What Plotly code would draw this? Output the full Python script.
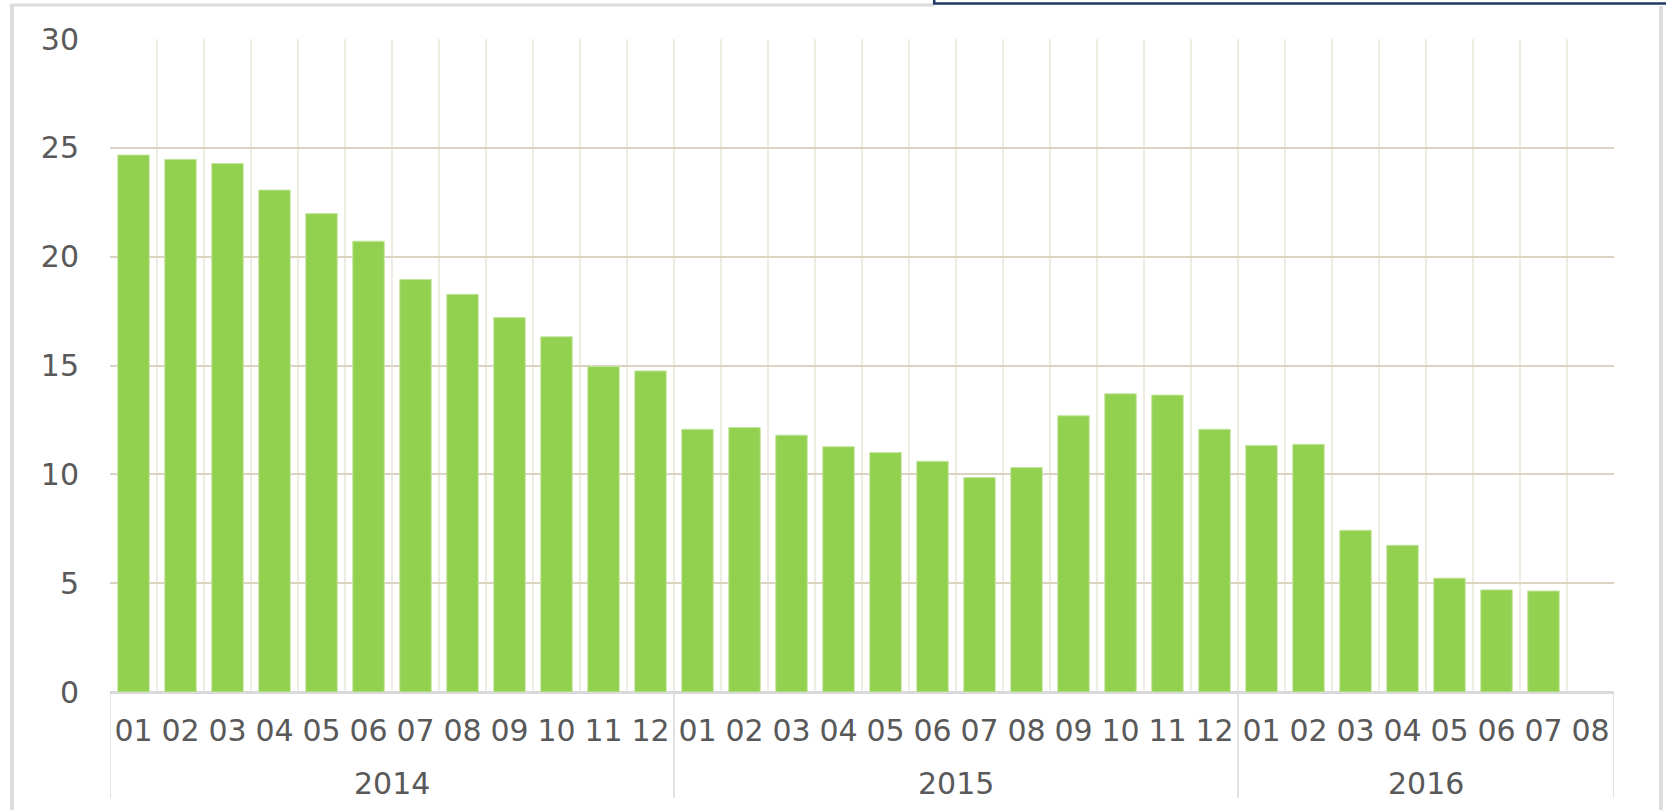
import plotly.graph_objects as go

years = ["2014"] * 12 + ["2015"] * 12 + ["2016"] * 8
months = ["01", "02", "03", "04", "05", "06", "07", "08", "09", "10", "11", "12",
          "01", "02", "03", "04", "05", "06", "07", "08", "09", "10", "11", "12",
          "01", "02", "03", "04", "05", "06", "07", "08"]
values = [24.67, 24.47, 24.28, 23.06, 21.98, 20.71, 18.95, 18.27, 17.20, 16.32, 14.95, 14.75,
          12.07, 12.15, 11.80, 11.27, 11.00, 10.60, 9.85, 10.31, 12.69, 13.70, 13.64, 12.07,
          11.33, 11.38, 7.43, 6.74, 5.23, 4.69, 4.64, None]
y_ticks = [0, 5, 10, 15, 20, 25, 30]

cats = [f"{y}-{m}" for y, m in zip(years, months)]

fig = go.Figure()
fig.add_trace(go.Bar(
    x=cats, y=values,
    marker=dict(color="#92D050", line=dict(color="#C4E59E", width=1)),
))

font = dict(family="DejaVu Sans", size=30, color="#595959")

# year group labels and dividers, placed from the category indices
shapes = []
annotations = []
year_order = []
for y in years:
    if y not in year_order:
        year_order.append(y)
start = 0
for y in year_order:
    n = years.count(y)
    annotations.append(dict(
        x=start + (n - 1) / 2, xref="x", y=-0.1394, yref="paper",
        text=y, showarrow=False, yanchor="middle", font=font))
    shapes.append(dict(type="line", xref="x", yref="paper",
                       x0=start - 0.5, x1=start - 0.5, y0=0, y1=-0.1623,
                       line=dict(color="#D9D9D9", width=1.5)))
    start += n
shapes.append(dict(type="line", xref="x", yref="paper",
                   x0=start - 0.5, x1=start - 0.5, y0=0, y1=-0.1623,
                   line=dict(color="#D9D9D9", width=1.5)))

# outer frame pieces
shapes += [
    dict(type="line", xref="paper", yref="paper", x0=-0.0652, x1=-0.0652,
         y0=1.054, y1=-0.2, line=dict(color="#DCDCDC", width=4)),
    dict(type="line", xref="paper", yref="paper", x0=-0.0652, x1=0.548,
         y0=1.052, y1=1.052, line=dict(color="#DCDCDC", width=3)),
    dict(type="line", xref="paper", yref="paper", x0=1.0312, x1=1.0312,
         y0=1.05, y1=-0.2, line=dict(color="#DCDCDC", width=4)),
    dict(type="rect", xref="paper", yref="paper", x0=0.548, x1=1.1,
         y0=1.0545, y1=1.1, line=dict(color="#1F3864", width=2.5)),
]

fig.update_layout(
    width=1666, height=810,
    margin=dict(l=110, r=52, t=39, b=118),
    paper_bgcolor="white", plot_bgcolor="white",
    showlegend=False, bargap=0.33,
    font=font,
    xaxis=dict(
        type="category", tickson="boundaries", showgrid=True,
        gridcolor="#EFECE2", gridwidth=1.5, ticks="", showline=True,
        linecolor="#D9D9D9", linewidth=1.5, tickfont=font,
        tickvals=cats, ticktext=months, ticklabelstandoff=11,
        automargin=False, range=[-0.5, len(cats) - 0.5],
    ),
    yaxis=dict(
        range=[0, 30], tickvals=y_ticks, showgrid=True, gridcolor="#DAD4C0",
        gridwidth=2, zeroline=True, zerolinecolor="#D9D9D9", zerolinewidth=1.5,
        showline=False, ticks="", ticklabelstandoff=30, tickfont=font,
        automargin=False,
    ),
    shapes=shapes,
    annotations=annotations,
)
fig.write_html("out.html", config={"displayModeBar": False},
               post_script="document.body.style.margin='0';document.body.style.overflow='hidden';")
